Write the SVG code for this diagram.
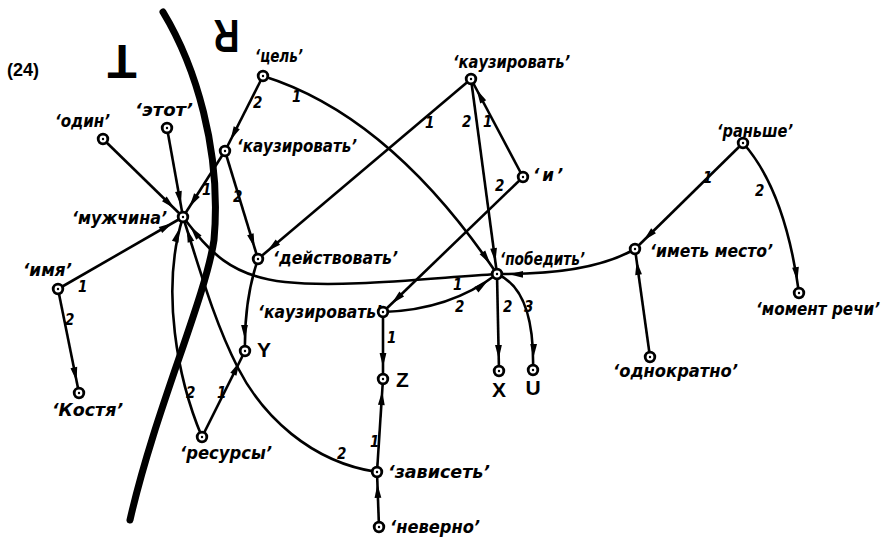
<svg xmlns="http://www.w3.org/2000/svg" width="892" height="538" viewBox="0 0 892 538">
<style>
.e{fill:none;stroke:#000;stroke-width:2.6;marker-end:url(#ah)}
.r{fill:#fff;stroke:#000;stroke-width:2.8}
.d{fill:#000}
.l{font-family:"DejaVu Sans Condensed","DejaVu Sans",sans-serif;font-weight:bold;font-style:oblique;font-size:18.5px;fill:#000}
.k{font-family:"DejaVu Sans Condensed","DejaVu Sans",sans-serif;font-weight:bold;font-style:oblique;font-size:15px;fill:#000}
.v{font-family:"Liberation Sans",Arial,sans-serif;font-weight:bold;font-size:21px;fill:#000}
.big{font-family:"Liberation Sans",Arial,sans-serif;font-weight:bold;fill:#000}
</style>
<defs>
<marker id="ah" viewBox="-16 -4 32 8" markerWidth="32" markerHeight="8" refX="12" refY="0" orient="auto" markerUnits="userSpaceOnUse"><path d="M0,0 L-14,-3.4 L-14,3.4 Z" fill="#000"/></marker>
</defs>
<rect width="892" height="538" fill="#fff"/>
<text x="7" y="76" class="big" font-size="18" textLength="32" lengthAdjust="spacingAndGlyphs">(24)</text>
<g id="boundary">
<path d="M163,12 C195,65 222,150 214,240 C205,300 155,410 130,520" fill="none" stroke="#000" stroke-width="7" stroke-linecap="round"/>
<text class="big" font-size="48" text-anchor="middle" x="0" y="17" transform="translate(122,62) rotate(180)">T</text>
<text class="big" font-size="46" text-anchor="middle" x="0" y="16.5" transform="translate(226.5,36.5) rotate(180) scale(0.78,1)">R</text>
</g>
<g id="connectors">
<path class="e" d="M263,76 L225,151"/>
<path class="e" d="M263,76 C340,100 420,160 497,274"/>
<path class="e" d="M225,151 L183,217"/>
<path class="e" d="M225,151 L258,259"/>
<path class="e" d="M103,139 L183,217"/>
<path class="e" d="M167,128 L183,217"/>
<path class="e" d="M58,289 L183,217"/>
<path class="e" d="M58,289 L79,393"/>
<path class="e" d="M471,79 L258,259"/>
<path class="e" d="M471,79 L497,274"/>
<path class="e" d="M523,177 L471,79"/>
<path class="e" d="M523,177 L383,312"/>
<path class="e" d="M497,274 C420,279 340,288 285,282 S210,252 183,217"/>
<path class="e" d="M383,312 Q450,310 497,274"/>
<path class="e" d="M635,249 Q590,275 497,274"/>
<path class="e" d="M497,274 L499,371"/>
<path class="e" d="M497,274 Q535,290 533,370"/>
<path class="e" d="M383,312 L383,379"/>
<path class="e" d="M377,472 L383,379"/>
<path class="e" d="M379,527 L377,472"/>
<path class="e" d="M377,472 C310,462 262,415 238,368 S200,270 183,217"/>
<path class="e" d="M202,437 C178,380 160,290 183,217"/>
<path class="e" d="M202,437 L245,351"/>
<path class="e" d="M258,259 Q244,300 245,351"/>
<path class="e" d="M743,143 L635,249"/>
<path class="e" d="M743,143 Q785,190 799,293"/>
<path class="e" d="M650,357 L635,249"/>
<text class="k" x="253" y="108">2</text>
<text class="k" x="292" y="102">1</text>
<text class="k" x="202" y="195">1</text>
<text class="k" x="233" y="202">2</text>
<text class="k" x="425" y="128">1</text>
<text class="k" x="462" y="127">2</text>
<text class="k" x="483" y="127">1</text>
<text class="k" x="495" y="191">2</text>
<text class="k" x="78" y="292">1</text>
<text class="k" x="65" y="325">2</text>
<text class="k" x="453" y="290">1</text>
<text class="k" x="455" y="312">2</text>
<text class="k" x="503" y="312">2</text>
<text class="k" x="524" y="312">3</text>
<text class="k" x="387" y="343">1</text>
<text class="k" x="370" y="447">1</text>
<text class="k" x="337" y="459">2</text>
<text class="k" x="186" y="398">2</text>
<text class="k" x="217" y="398">1</text>
<text class="k" x="703" y="183">1</text>
<text class="k" x="755" y="196">2</text>
</g>
<g id="n-cel"><circle class="r" cx="263" cy="76" r="4.8"/><circle class="d" cx="263" cy="76" r="1.2"/><text class="l" x="255" y="62" textLength="48" lengthAdjust="spacingAndGlyphs">‘цель’</text></g>
<g id="n-kauz1"><circle class="r" cx="225" cy="151" r="4.8"/><circle class="d" cx="225" cy="151" r="1.2"/><text class="l" x="237" y="152" textLength="120" lengthAdjust="spacingAndGlyphs">‘каузировать’</text></g>
<g id="n-odin"><circle class="r" cx="103" cy="139" r="4.8"/><circle class="d" cx="103" cy="139" r="1.2"/><text class="l" x="55" y="127" textLength="55" lengthAdjust="spacingAndGlyphs">‘один’</text></g>
<g id="n-etot"><circle class="r" cx="167" cy="128" r="4.8"/><circle class="d" cx="167" cy="128" r="1.2"/><text class="l" x="135" y="116" textLength="58" lengthAdjust="spacingAndGlyphs">‘этот’</text></g>
<g id="n-muzh"><circle class="r" cx="183" cy="217" r="4.8"/><circle class="d" cx="183" cy="217" r="1.2"/><text class="l" x="72" y="224" textLength="95" lengthAdjust="spacingAndGlyphs">‘мужчина’</text></g>
<g id="n-imya"><circle class="r" cx="58" cy="289" r="4.8"/><circle class="d" cx="58" cy="289" r="1.2"/><text class="l" x="23" y="276" textLength="49" lengthAdjust="spacingAndGlyphs">‘имя’</text></g>
<g id="n-kostya"><circle class="r" cx="79" cy="393" r="4.8"/><circle class="d" cx="79" cy="393" r="1.2"/><text class="l" x="52" y="416" textLength="71" lengthAdjust="spacingAndGlyphs">‘Костя’</text></g>
<g id="n-deistv"><circle class="r" cx="258" cy="259" r="4.8"/><circle class="d" cx="258" cy="259" r="1.2"/><text class="l" x="273" y="264" textLength="125" lengthAdjust="spacingAndGlyphs">‘действовать’</text></g>
<g id="n-Y"><circle class="r" cx="245" cy="351" r="4.8"/><circle class="d" cx="245" cy="351" r="1.2"/><text class="v" x="257" y="357">Y</text></g>
<g id="n-resursy"><circle class="r" cx="202" cy="437" r="4.8"/><circle class="d" cx="202" cy="437" r="1.2"/><text class="l" x="180" y="459" textLength="92" lengthAdjust="spacingAndGlyphs">‘ресурсы’</text></g>
<g id="n-kauz2"><circle class="r" cx="383" cy="312" r="4.8"/><circle class="d" cx="383" cy="312" r="1.2"/><text class="l" x="258" y="318" textLength="124" lengthAdjust="spacingAndGlyphs">‘каузировать’</text></g>
<g id="n-pobedit"><circle class="r" cx="497" cy="274" r="4.8"/><circle class="d" cx="497" cy="274" r="1.2"/><text class="l" x="500" y="265" textLength="85" lengthAdjust="spacingAndGlyphs">‘победить’</text></g>
<g id="n-kauz3"><circle class="r" cx="471" cy="79" r="4.8"/><circle class="d" cx="471" cy="79" r="1.2"/><text class="l" x="453" y="68" textLength="117" lengthAdjust="spacingAndGlyphs">‘каузировать’</text></g>
<g id="n-i"><circle class="r" cx="523" cy="177" r="4.8"/><circle class="d" cx="523" cy="177" r="1.2"/><text class="l" x="533" y="181" textLength="30" lengthAdjust="spacing">‘и’</text></g>
<g id="n-Z"><circle class="r" cx="383" cy="379" r="4.8"/><circle class="d" cx="383" cy="379" r="1.2"/><text class="v" x="396" y="387">Z</text></g>
<g id="n-X"><circle class="r" cx="499" cy="371" r="4.8"/><circle class="d" cx="499" cy="371" r="1.2"/><text class="v" x="499" y="397" text-anchor="middle">X</text></g>
<g id="n-U"><circle class="r" cx="533" cy="370" r="4.8"/><circle class="d" cx="533" cy="370" r="1.2"/><text class="v" x="533" y="395" text-anchor="middle">U</text></g>
<g id="n-zavis"><circle class="r" cx="377" cy="472" r="4.8"/><circle class="d" cx="377" cy="472" r="1.2"/><text class="l" x="388" y="478" textLength="102" lengthAdjust="spacingAndGlyphs">‘зависеть’</text></g>
<g id="n-neverno"><circle class="r" cx="379" cy="527" r="4.8"/><circle class="d" cx="379" cy="527" r="1.2"/><text class="l" x="390" y="533" textLength="90" lengthAdjust="spacingAndGlyphs">‘неверно’</text></g>
<g id="n-ranshe"><circle class="r" cx="743" cy="143" r="4.8"/><circle class="d" cx="743" cy="143" r="1.2"/><text class="l" x="717" y="137" textLength="76" lengthAdjust="spacingAndGlyphs">‘раньше’</text></g>
<g id="n-imet"><circle class="r" cx="635" cy="249" r="4.8"/><circle class="d" cx="635" cy="249" r="1.2"/><text class="l" x="650" y="257" textLength="123" lengthAdjust="spacingAndGlyphs">‘иметь место’</text></g>
<g id="n-moment"><circle class="r" cx="799" cy="293" r="4.8"/><circle class="d" cx="799" cy="293" r="1.2"/><text class="l" x="756" y="315" textLength="124" lengthAdjust="spacingAndGlyphs">‘момент речи’</text></g>
<g id="n-odnokr"><circle class="r" cx="650" cy="357" r="4.8"/><circle class="d" cx="650" cy="357" r="1.2"/><text class="l" x="613" y="377" textLength="125" lengthAdjust="spacingAndGlyphs">‘однократно’</text></g>
</svg>
